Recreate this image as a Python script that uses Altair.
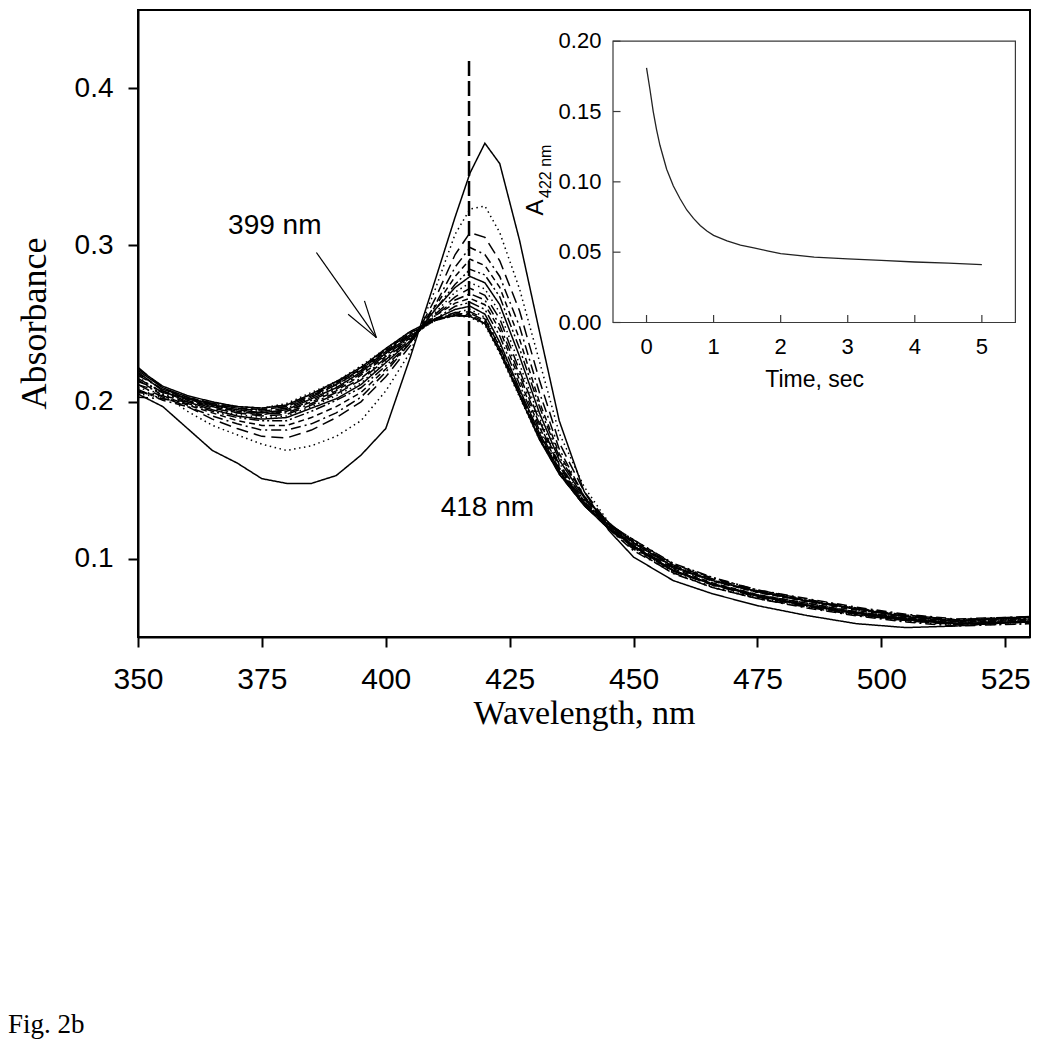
import altair as alt
import pandas as pd

# ---------------- data ----------------
wavelength = [350, 355, 360, 365, 370, 375, 380, 385, 390, 395, 400, 405, 410, 414, 417,
              420, 423, 427, 431, 435, 440, 445, 450, 458, 466, 475, 485, 495, 505, 515, 530]

s01 = [0.205, 0.197, 0.183, 0.169, 0.161, 0.151, 0.148, 0.148, 0.153, 0.166, 0.183, 0.229, 0.278, 0.318, 0.346,
       0.365, 0.352, 0.303, 0.245, 0.188, 0.143, 0.118, 0.101, 0.086, 0.0775, 0.070, 0.0637, 0.0585, 0.056, 0.057, 0.060]
s02 = [0.216, 0.205, 0.194, 0.185, 0.179, 0.173, 0.169, 0.172, 0.178, 0.188, 0.207, 0.232, 0.272, 0.307, 0.323,
       0.325, 0.308, 0.272, 0.226, 0.180, 0.146, 0.123, 0.107, 0.092, 0.084, 0.077, 0.0715, 0.066, 0.062, 0.059, 0.0615]
s03 = [0.211, 0.203, 0.197, 0.189, 0.183, 0.178, 0.177, 0.182, 0.190, 0.200, 0.216, 0.236, 0.266, 0.294, 0.308,
       0.305, 0.290, 0.258, 0.214, 0.174, 0.143, 0.122, 0.108, 0.094, 0.086, 0.079, 0.073, 0.068, 0.064, 0.061, 0.063]
s04 = [0.208, 0.201, 0.197, 0.191, 0.186, 0.182, 0.182, 0.186, 0.193, 0.203, 0.219, 0.238, 0.262, 0.286, 0.2985,
       0.294, 0.280, 0.248, 0.206, 0.170, 0.140, 0.119, 0.105, 0.091, 0.0815, 0.0745, 0.0685, 0.0635, 0.0595, 0.057, 0.0585]
s05 = [0.214, 0.204, 0.198, 0.193, 0.188, 0.185, 0.185, 0.190, 0.197, 0.206, 0.221, 0.238, 0.261, 0.280, 0.291,
       0.287, 0.273, 0.240, 0.200, 0.167, 0.140, 0.121, 0.107, 0.0925, 0.084, 0.077, 0.0715, 0.066, 0.062, 0.0595, 0.0615]
s06 = [0.207, 0.202, 0.199, 0.194, 0.190, 0.188, 0.188, 0.194, 0.201, 0.209, 0.223, 0.238, 0.259, 0.275, 0.2845,
       0.281, 0.267, 0.234, 0.197, 0.165, 0.140, 0.122, 0.108, 0.092, 0.0835, 0.0765, 0.0705, 0.065, 0.0615, 0.058, 0.0595]
s07 = [0.219, 0.207, 0.200, 0.195, 0.191, 0.189, 0.190, 0.196, 0.202, 0.211, 0.225, 0.239, 0.259, 0.273, 0.280,
       0.276, 0.262, 0.229, 0.193, 0.163, 0.139, 0.123, 0.110, 0.095, 0.086, 0.079, 0.073, 0.068, 0.063, 0.060, 0.063]
s08 = [0.205, 0.203, 0.198, 0.195, 0.192, 0.190, 0.191, 0.197, 0.204, 0.212, 0.226, 0.239, 0.257, 0.270, 0.276,
       0.272, 0.257, 0.224, 0.190, 0.161, 0.137, 0.120, 0.107, 0.091, 0.082, 0.075, 0.0695, 0.064, 0.060, 0.0575, 0.0585]
s09 = [0.222, 0.209, 0.201, 0.196, 0.193, 0.191, 0.192, 0.198, 0.205, 0.214, 0.227, 0.240, 0.256, 0.267, 0.2725,
       0.268, 0.253, 0.220, 0.188, 0.160, 0.138, 0.122, 0.111, 0.096, 0.087, 0.0795, 0.0735, 0.068, 0.0635, 0.0605, 0.0625]
s10 = [0.217, 0.208, 0.202, 0.197, 0.193, 0.192, 0.193, 0.199, 0.206, 0.215, 0.228, 0.240, 0.255, 0.265, 0.269,
       0.265, 0.249, 0.217, 0.186, 0.159, 0.136, 0.119, 0.106, 0.0905, 0.0815, 0.0745, 0.069, 0.064, 0.0605, 0.058, 0.0595]
s11 = [0.206, 0.204, 0.200, 0.197, 0.194, 0.192, 0.194, 0.200, 0.207, 0.217, 0.229, 0.241, 0.255, 0.263, 0.266,
       0.262, 0.246, 0.214, 0.184, 0.158, 0.137, 0.121, 0.110, 0.0945, 0.0855, 0.0785, 0.0725, 0.067, 0.0625, 0.0595, 0.0605]
s12 = [0.213, 0.207, 0.202, 0.198, 0.194, 0.193, 0.194, 0.201, 0.208, 0.218, 0.230, 0.241, 0.253, 0.261, 0.2635,
       0.259, 0.242, 0.211, 0.182, 0.157, 0.136, 0.122, 0.112, 0.097, 0.088, 0.080, 0.074, 0.0685, 0.064, 0.061, 0.0625]
s13 = [0.220, 0.209, 0.203, 0.198, 0.195, 0.193, 0.195, 0.202, 0.209, 0.219, 0.231, 0.242, 0.253, 0.259, 0.261,
       0.256, 0.238, 0.208, 0.180, 0.156, 0.135, 0.120, 0.108, 0.0925, 0.0835, 0.0765, 0.0705, 0.0655, 0.0615, 0.0585, 0.060]
s14 = [0.209, 0.205, 0.201, 0.198, 0.195, 0.194, 0.196, 0.203, 0.210, 0.220, 0.231, 0.242, 0.252, 0.257, 0.259,
       0.254, 0.236, 0.207, 0.179, 0.155, 0.135, 0.121, 0.111, 0.095, 0.086, 0.079, 0.0735, 0.0675, 0.063, 0.060, 0.0615]
s15 = [0.215, 0.206, 0.202, 0.199, 0.196, 0.194, 0.196, 0.203, 0.211, 0.220, 0.232, 0.243, 0.253, 0.257, 0.2575,
       0.253, 0.235, 0.206, 0.178, 0.155, 0.134, 0.119, 0.107, 0.092, 0.083, 0.0755, 0.0695, 0.0645, 0.0605, 0.058, 0.060]
s16 = [0.203, 0.202, 0.200, 0.198, 0.196, 0.195, 0.197, 0.204, 0.211, 0.221, 0.232, 0.243, 0.252, 0.256, 0.2565,
       0.252, 0.234, 0.206, 0.178, 0.156, 0.136, 0.122, 0.112, 0.0965, 0.0875, 0.080, 0.0745, 0.069, 0.0645, 0.0615, 0.063]
s17 = [0.218, 0.208, 0.203, 0.199, 0.196, 0.195, 0.197, 0.204, 0.212, 0.221, 0.233, 0.244, 0.253, 0.256, 0.2555,
       0.251, 0.233, 0.205, 0.177, 0.154, 0.134, 0.120, 0.109, 0.0935, 0.0845, 0.077, 0.0715, 0.066, 0.062, 0.059, 0.061]
s18 = [0.211, 0.206, 0.202, 0.199, 0.197, 0.196, 0.198, 0.205, 0.212, 0.222, 0.233, 0.244, 0.252, 0.255, 0.255,
       0.250, 0.232, 0.204, 0.177, 0.155, 0.135, 0.121, 0.110, 0.095, 0.086, 0.0785, 0.073, 0.0675, 0.063, 0.060, 0.062]
s19 = [0.221, 0.210, 0.204, 0.200, 0.197, 0.196, 0.198, 0.205, 0.213, 0.222, 0.234, 0.245, 0.253, 0.255, 0.2545,
       0.250, 0.232, 0.204, 0.176, 0.154, 0.134, 0.119, 0.108, 0.0925, 0.0835, 0.076, 0.070, 0.065, 0.061, 0.0585, 0.0595]
s20 = [0.207, 0.204, 0.202, 0.200, 0.197, 0.196, 0.199, 0.206, 0.213, 0.223, 0.234, 0.245, 0.252, 0.255, 0.254,
       0.249, 0.231, 0.203, 0.176, 0.155, 0.135, 0.121, 0.111, 0.0955, 0.0865, 0.079, 0.0735, 0.068, 0.0635, 0.0605, 0.0615]

spectra = {"s01": s01, "s02": s02, "s03": s03, "s04": s04, "s05": s05, "s06": s06, "s07": s07,
           "s08": s08, "s09": s09, "s10": s10, "s11": s11, "s12": s12, "s13": s13, "s14": s14,
           "s15": s15, "s16": s16, "s17": s17, "s18": s18, "s19": s19, "s20": s20}

x_ticks = [350, 375, 400, 425, 450, 475, 500, 525]
y_ticks = [0.1, 0.2, 0.3, 0.4]

# reference line at 418 nm and annotation positions (data units)
marker_wl = [416.8]
marker_lo = [0.1654]
marker_hi = [0.418]
label_text = ["399 nm", "418 nm"]
label_wl = [377.6, 420.5]
label_a = [0.3072, 0.127]
arrow_x1 = [386.0, 392.4, 395.7]
arrow_y1 = [0.2953, 0.2559, 0.2644]
arrow_x2 = [398.1, 398.1, 398.1]
arrow_y2 = [0.2410, 0.2410, 0.2410]

# inset: A422 vs time
inset_time = [0, 0.05, 0.1, 0.15, 0.2, 0.3, 0.4, 0.5, 0.6, 0.7, 0.8, 0.9, 1.0, 1.2, 1.4, 1.6,
              1.8, 2.0, 2.5, 3.0, 3.5, 4.0, 4.5, 5.0]
inset_abs = [0.181, 0.166, 0.150, 0.137, 0.126, 0.109, 0.097, 0.088, 0.080, 0.074, 0.069, 0.065,
             0.062, 0.058, 0.055, 0.053, 0.051, 0.049, 0.0465, 0.0452, 0.0441, 0.0430, 0.0422, 0.0412]
inset_x_ticks = [0, 1, 2, 3, 4, 5]
inset_y_ticks = [0.00, 0.05, 0.10, 0.15, 0.20]

# ---------------- tables ----------------
rows = []
for name, vals in spectra.items():
    for w, a in zip(wavelength, vals):
        rows.append({"series": name, "wl": w, "A": a})
spec_df = pd.DataFrame(rows)
series_names = list(spectra.keys())
dash_cycle = [[1, 0], [1.5, 3.5], [12, 6], [10, 4, 2, 4], [6, 4], [10, 3, 2, 3, 2, 3]]
dash_range = [dash_cycle[i % len(dash_cycle)] for i in range(len(series_names))]

SANS = "Liberation Sans"
SERIF = "Liberation Serif"

x_scale = alt.Scale(domain=[350, 530], nice=False, zero=False)
y_scale = alt.Scale(domain=[0.05, 0.45], nice=False, zero=False)

x_axis = alt.Axis(values=x_ticks, title="Wavelength, nm", titleFont=SERIF, titleFontSize=34,
                  titleFontWeight="normal", titleColor="black", titleY=86, titleBaseline="alphabetic",
                  labelFont=SANS, labelFontSize=30, labelColor="black", labelPadding=17,
                  tickSize=10, tickWidth=2, tickColor="black", domainWidth=2, domainColor="black",
                  grid=False, labelFlush=False, labelOverlap=False)
y_axis = alt.Axis(values=y_ticks, format=".1f", title="Absorbance", titleFont=SERIF, titleFontSize=36,
                  titleFontWeight="normal", titleColor="black", titleAngle=270, titleX=-93, titleY=313,
                  titleAlign="center", titleBaseline="alphabetic",
                  labelFont=SANS, labelFontSize=28, labelColor="black", labelPadding=15,
                  tickSize=10, tickWidth=2, tickColor="black", domainWidth=2, domainColor="black",
                  grid=False, labelFlush=False, labelOverlap=False)

lines = alt.Chart(spec_df).mark_line(color="black", strokeWidth=1.5).encode(
    x=alt.X("wl:Q", scale=x_scale, axis=x_axis),
    y=alt.Y("A:Q", scale=y_scale, axis=y_axis),
    strokeDash=alt.StrokeDash("series:N", scale=alt.Scale(domain=series_names, range=dash_range), legend=None),
    order="wl:Q",
)

frame_df = pd.DataFrame({"wl": [350], "wl2": [530], "A": [0.05], "A2": [0.45]})
frame = alt.Chart(frame_df).mark_rect(fillOpacity=0, stroke="black", strokeWidth=2).encode(
    x="wl:Q", x2="wl2:Q", y="A:Q", y2="A2:Q")

marker_df = pd.DataFrame({"wl": marker_wl, "A": marker_lo, "A2": marker_hi})
marker = alt.Chart(marker_df).mark_rule(color="black", strokeWidth=2.5, strokeDash=[15, 5]).encode(
    x="wl:Q", y="A:Q", y2="A2:Q")

labels_df = pd.DataFrame({"wl": label_wl, "A": label_a, "label": label_text})
labels = alt.Chart(labels_df).mark_text(font=SANS, fontSize=28, color="black", align="center",
                                        baseline="alphabetic").encode(x="wl:Q", y="A:Q", text="label:N")

arrow_df = pd.DataFrame({"wl": arrow_x1, "A": arrow_y1, "wl2": arrow_x2, "A2": arrow_y2})
arrow = alt.Chart(arrow_df).mark_rule(color="black", strokeWidth=1.2).encode(
    x="wl:Q", y="A:Q", x2="wl2:Q", y2="A2:Q")

fig_df = pd.DataFrame({"label": ["Fig. 2b"]})
fig_label = alt.Chart(fig_df).mark_text(font=SERIF, fontSize=27, color="black", align="left",
                                        baseline="alphabetic").encode(
    x=alt.value(-130.0), y=alt.value(1023.0), text="label:N")

main = alt.layer(lines, frame, marker, labels, arrow, fig_label)

# ---------------- inset ----------------
ix_scale = alt.Scale(domain=[-0.5, 5.5], range=[475, 877.4], nice=False, zero=False)
iy_scale = alt.Scale(domain=[0, 0.2], range=[312.5, 31.2], nice=False, zero=False)
INSET_BOTTOM = 312.5
INSET_LEFT = 475

box_df = pd.DataFrame({"t": [-0.5], "t2": [5.5], "a": [0.0], "a2": [0.2]})
box = alt.Chart(box_df).mark_rect(fill="white", stroke="#3a3a3a", strokeWidth=1.2).encode(
    x=alt.X("t:Q", scale=ix_scale, axis=None), x2="t2:Q",
    y=alt.Y("a:Q", scale=iy_scale, axis=None), y2="a2:Q")

curve_df = pd.DataFrame({"t": inset_time, "a": inset_abs})
curve = alt.Chart(curve_df).mark_line(color="#222222", strokeWidth=1.3).encode(
    x=alt.X("t:Q", scale=ix_scale, axis=None),
    y=alt.Y("a:Q", scale=iy_scale, axis=None))

xt_df = pd.DataFrame({"t": inset_x_ticks, "label": [str(v) for v in inset_x_ticks]})
x_tick_marks = alt.Chart(xt_df).mark_rule(color="#3a3a3a", strokeWidth=1.2).encode(
    x=alt.X("t:Q", scale=ix_scale, axis=None),
    y=alt.value(INSET_BOTTOM), y2=alt.value(INSET_BOTTOM - 7.5))
x_tick_labels = alt.Chart(xt_df).mark_text(font=SANS, fontSize=22, color="black", align="center",
                                           baseline="alphabetic").encode(
    x=alt.X("t:Q", scale=ix_scale, axis=None), y=alt.value(343.8), text="label:N")

yt_df = pd.DataFrame({"a": inset_y_ticks, "label": [f"{v:.2f}" for v in inset_y_ticks]})
y_tick_marks = alt.Chart(yt_df).mark_rule(color="#3a3a3a", strokeWidth=1.2).encode(
    y=alt.Y("a:Q", scale=iy_scale, axis=None),
    x=alt.value(INSET_LEFT), x2=alt.value(INSET_LEFT + 7.5))
y_tick_labels = alt.Chart(yt_df).mark_text(font=SANS, fontSize=22, color="black", align="right",
                                           baseline="middle").encode(
    y=alt.Y("a:Q", scale=iy_scale, axis=None), x=alt.value(463.4), text="label:N")

ititle_df = pd.DataFrame({"label": ["Time, sec"]})
inset_xtitle = alt.Chart(ititle_df).mark_text(font=SANS, fontSize=23, color="black", align="center",
                                              baseline="alphabetic").encode(
    x=alt.value(676.7), y=alt.value(377.2), text="label:N")

a_df = pd.DataFrame({"label": ["A"]})
inset_ytitle_a = alt.Chart(a_df).mark_text(font=SANS, fontSize=24, color="black", align="left",
                                           baseline="alphabetic", angle=270).encode(
    x=alt.value(405.0), y=alt.value(205.5), text="label:N")
sub_df = pd.DataFrame({"label": ["422 nm"]})
inset_ytitle_sub = alt.Chart(sub_df).mark_text(font=SANS, fontSize=16, color="black", align="left",
                                               baseline="alphabetic", angle=270).encode(
    x=alt.value(413.4), y=alt.value(188.0), text="label:N")

inset = alt.layer(box, curve, x_tick_marks, x_tick_labels, y_tick_marks, y_tick_labels,
                  inset_xtitle, inset_ytitle_a, inset_ytitle_sub)

chart = alt.layer(main, inset).resolve_scale(x="independent", y="independent").properties(
    width=892, height=627,
    autosize=alt.AutoSizeParams(type="none"),
    padding={"left": 130, "top": 2, "right": 4, "bottom": 403},
).configure_view(stroke="black", strokeWidth=2).configure(background="white")

chart.save("out.html", embed_options={"renderer": "svg", "actions": False})
